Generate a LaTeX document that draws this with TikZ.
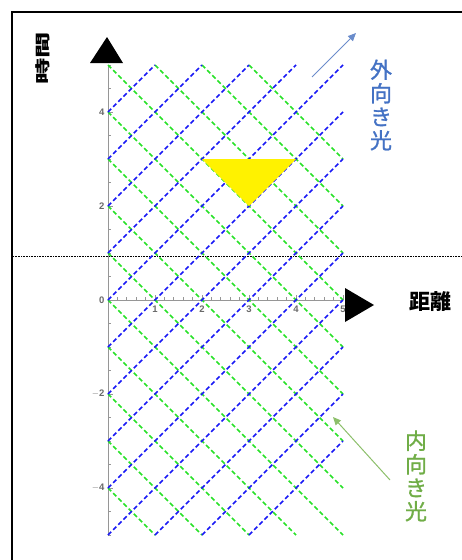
\documentclass[tikz,border=0pt]{standalone}
\usepackage{fontspec}
\usepackage{graphicx}
\setmainfont{Liberation Sans}
\newfontfamily\jp{Noto Sans CJK JP}
\newfontfamily\jpm[FakeBold=1.2]{Noto Sans CJK JP}
\usetikzlibrary{arrows.meta}
\definecolor{rayblue}{RGB}{25,25,245}
\definecolor{raygreen}{RGB}{40,225,40}
\definecolor{outblue}{HTML}{4472C4}
\definecolor{outarrow}{HTML}{6A8CCB}
\definecolor{ingreen}{HTML}{70AD47}
\definecolor{inarrow}{HTML}{8CBF6A}
\definecolor{axisgray}{RGB}{150,150,150}
\definecolor{labelgray}{RGB}{105,105,105}
\begin{document}
\begin{tikzpicture}[x=1pt,y=-1pt,
  blueray/.style={draw=rayblue, line width=1.7pt, dash pattern=on 4.5pt off 2.8pt},
  greenray/.style={draw=raygreen, line width=1.7pt, dash pattern=on 4.5pt off 2.8pt},
  axisline/.style={draw=axisgray, line width=1pt},
  tickline/.style={draw=axisgray, line width=0.7pt},
  ticklabel/.style={text=labelgray, font=\bfseries\fontsize{9.5}{9.5}\selectfont, inner sep=0pt},
  bigtri/.style={fill=black},
  jpbold/.style={font=\jp\bfseries\fontsize{#1}{#1}\selectfont, inner sep=0pt},
  jpvert/.style={font=\jpm\fontsize{22}{23.5}\selectfont, align=center, inner sep=0pt}
]
\useasboundingbox (0,0) rectangle (462,560);
% frame
\draw[line width=2pt] (12,562) -- (12,12) -- (464,12);
% dotted horizontal line
\draw[densely dotted, line width=0.6pt] (13,256) -- (462,256);
\begin{scope}[shift={(108,300)}, x=47pt, y=47pt]
  % axes
  \draw[axisline] (0,-5) -- (0,5);
  \draw[axisline] (0,0) -- (5,0);
  \foreach \t in {-5,-4.5,...,5.01} \draw[tickline] (0,\t) -- ++(3pt,0);
  \foreach \t in {-4,-2,0,2,4} \draw[tickline] (0,\t) -- ++(5pt,0);
  \foreach \t in {0,0.2,...,5.01} \draw[tickline] (\t,0) -- ++(0,3pt);
  \foreach \t in {1,...,5} \draw[tickline] (\t,0) -- ++(0,5pt);
  % tick labels
  \foreach \v/\n/\s in {4/ya/4,2/yb/2,0/yc/0,-2/yd/{$-$2},-4/ye/{$-$4}}
    \node[ticklabel, anchor=east] (\n) at ([xshift=-3.5pt]0,\v) {\s};
  \foreach \v/\n in {1/xa,2/xb,3/xc,4/xd,5/xe}
    \node[ticklabel, anchor=north] (\n) at ([yshift=-6pt]\v,0) {\v};
  % light rays
  \foreach \c in {-4,...,8} {
    \pgfmathsetmacro\xa{max(0,\c-5)}
    \pgfmathsetmacro\xb{min(5,\c+5)}
    \draw[greenray] (\xa,{\c-\xa}) -- (\xb,{\c-\xb});
  }
  \foreach \c in {-8,...,4} {
    \pgfmathsetmacro\xa{max(0,-5-\c)}
    \pgfmathsetmacro\xb{min(5,5-\c)}
    \draw[blueray] (\xa,{\xa+\c}) -- (\xb,{\xb+\c});
  }
  % yellow triangle
  \fill[yellow] (2,3) -- (4,3) -- (3,2) -- cycle;
\end{scope}
% axis arrow triangles
\fill[bigtri] (90,63) -- (123,63) -- (107,37) -- cycle;
\fill[bigtri] (345,288) -- (345,322) -- (374,305) -- cycle;
% labels
\node[jpbold=15, rotate=90] (timelabel) at (43,58) {\scalebox{1.75}[1]{時間}};
\node[jpbold=21] (distlabel) at (430,302) {距離};
\node[jpvert, text=outblue] (outlabel) at (381,105) {外\\向\\き\\光};
\node[jpvert, text=ingreen] (inlabel) at (416,476) {内\\向\\き\\光};
% annotation arrows
\coordinate (oa) at (312,77);
\coordinate (ob) at (356,33);
\draw[outarrow, line width=1pt, -{Triangle[length=8pt,width=7pt]}] (oa) -- (ob);
\coordinate (ia) at (390,480);
\coordinate (ib) at (333,417);
\draw[inarrow, line width=1pt, -{Triangle[length=8pt,width=7pt]}] (ia) -- (ib);
\end{tikzpicture}
\end{document}
